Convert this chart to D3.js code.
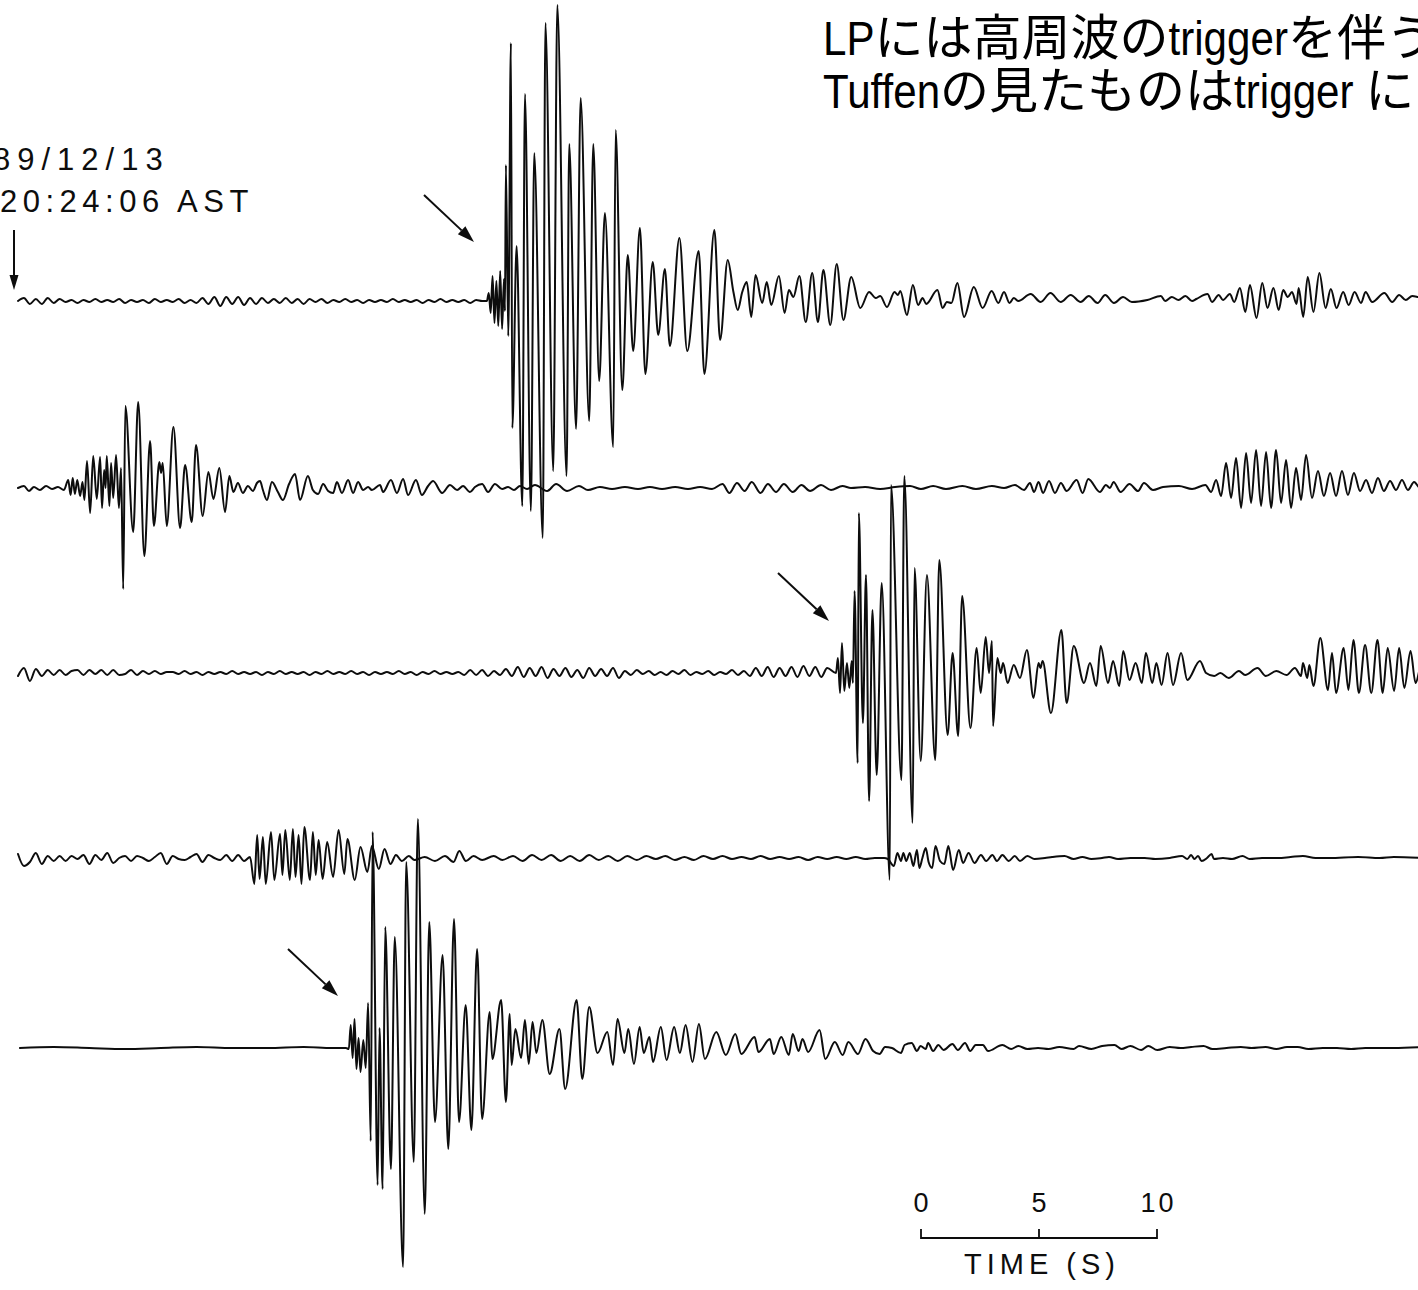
<!DOCTYPE html>
<html>
<head>
<meta charset="utf-8">
<script src="https://cdn.jsdelivr.net/npm/d3@7"></script>
<style>
  html, body { margin: 0; padding: 0; background: #fff; }
  svg { display: block; }
</style>
</head>
<body>
<svg id="chart" width="1418" height="1290"></svg>
<script>
// ---------------------------------------------------------------------------
// Five seismogram traces. Each trace is a list of [time (s), deflection] pairs
// at the turning points of the record; quiet stretches are stored as evenly
// sampled deflections (start time, sample step, values).
// ---------------------------------------------------------------------------

const dateLabel = "89/12/13";
const timeLabel = "20:24:06 AST";
const noteLines = ["LPには高周波のtriggerを伴う", "Tuffenの見たものはtrigger に"];
const scaleTicks = [0, 5, 10];
const scaleTitle = "TIME (S)";

// Trace 1
const trace1Quiet = { start: 0, step: 0.25, amp: [
  0, 3, -3, 2, -3, 3, -2, 2,
  -1, 1, -2, 1, -1, 2, -1, 1, -1, 2, -2, 1, -1, 1, -2, 2, -1, 1, -1, 2, -2, 1,
  -2, 3, -3, 4, -5, 4, -3, 4, -4, 3, -3, 3, -2,
  2, -2, 3, -2, 2, -3, 2, -1, 2, -2,
  1, -1, 2, -1, 1, -2, 1, -1, 1, -1, 2, -1, 1, -1, 1, -2, 1, -1, 2, -1, 1, -1, 1, -2, 1, 0
]};
const trace1Event = [
  [19.70,0],[19.78,8],[19.86,-12],[19.94,25],[20.02,-22],[20.10,20],[20.18,-25],[20.26,30],[20.34,-28],[20.42,22],[20.46,-10],
  [20.50,136],[20.60,-35],[20.71,258],[20.77,-127],[20.95,55],[21.19,-205],[21.30,207],[21.55,-210],[21.69,148],[22.05,-237],
  [22.16,278],[22.49,-170],[22.66,296],[23.05,-175],[23.16,157],[23.45,-128],[23.64,203],[24.00,-120],[24.17,157],[24.42,-80],
  [24.66,88],[25.01,-146],[25.11,171],[25.39,-89],[25.62,46],[25.85,-50],[26.13,73],[26.36,-73],[26.67,39],[26.90,-34],
  [27.18,32],[27.39,-45],[27.79,63],[28.12,-50],[28.60,50],[28.84,-73],[29.26,71],[29.50,-39],[29.82,41],
  [30.06,9],[30.24,-9],[30.43,9],[30.62,19],[30.81,-16],[30.99,26],[31.27,-2],[31.46,19],[31.65,-4],[31.97,25],[32.21,-12],
  [32.39,11],[32.58,4],[32.83,25],[33.10,-21],[33.37,28],[33.61,-21],[33.84,31],[34.13,-24],[34.40,37],[34.68,-19],[35.01,24],
  [35.39,-7],[35.76,9],[36.04,3],[36.23,5],[36.51,-6],[36.83,9],[36.97,6],[37.07,10],[37.35,-14],[37.60,16],[37.82,-4],
  [38.01,3],[38.16,-3],[38.63,11],[38.85,-7],[39.03,-1],[39.22,-2],[39.47,18],[39.75,-16],[40.16,14],[40.53,-7],[40.91,10],
  [41.19,-2],[41.43,9],[41.66,-2],[41.84,3],[42.03,0],[42.55,7],[42.97,-1],[43.38,8],[43.81,-1],[44.23,6],[44.65,-1],
  [44.99,5],[45.36,-2],[45.68,6],[46.05,-2],[46.43,4],[46.80,-1],[47.45,1],[48.02,5],[48.20,0],[48.48,4],[48.76,1],
  [49.05,5],[49.33,0],[49.51,2],[49.98,7],[50.17,-1],[50.45,6],[50.63,1],[50.92,7],[51.10,-1],[51.34,13],[51.57,-11],
  [51.76,16],[52.04,-17],[52.28,18],[52.50,-7],[52.75,13],[52.97,-9],[53.16,11],[53.35,4],[53.53,9],[53.72,-3],[53.81,13],
  [54.00,-16],[54.19,24],[54.43,-11],[54.68,28],[54.94,-7],[55.16,12],[55.40,-7],[55.68,9],[55.91,-4],[56.16,9],[56.43,-2],
  [56.62,9],[56.90,-1],[57.41,8],[57.74,-1],[58.03,6],[58.31,1],[58.58,5],[58.82,4],[59.13,2]
];

// Trace 2
const trace2 = [
  [0.00,0],[0.25,2],[0.46,-3],[0.67,1],[0.92,-2],[1.18,2],[1.43,-1],[1.68,1],[1.93,-2],
  [2.11,8],[2.21,-7],[2.30,10],[2.39,-6],[2.49,8],[2.61,-8],[2.71,6],[2.79,-12],[2.90,27],[3.03,-25],[3.16,32],[3.31,-11],
  [3.45,31],[3.53,-20],[3.62,18],[3.68,0],[3.73,32],[3.84,-18],[3.91,25],[4.00,-10],[4.12,33],[4.24,-20],[4.33,20],
  [4.42,-101],[4.51,82],[4.84,-44],[5.05,86],[5.31,-68],[5.55,47],[5.71,-38],[5.94,26],[6.01,15],[6.08,25],[6.25,-38],
  [6.53,61],[6.81,-40],[7.02,23],[7.30,-34],[7.48,43],[7.76,-28],[8.00,16],[8.21,-11],[8.46,20],[8.70,-24],[8.88,12],[9.05,-4],
  [9.24,5],[9.45,-5],[9.66,2],[9.87,-3],[10.04,5],[10.17,7],[10.29,-2],[10.46,-12],[10.67,6],[10.92,-4],[11.13,-12],
  [11.39,4],[11.64,14],[11.85,-12],[12.18,12],[12.39,-2],[12.61,-6],[12.82,4],[13.03,-3],[13.24,-5],[13.40,6],[13.61,-5],
  [13.87,8],[14.08,-5],[14.29,6],[14.50,-2],[14.71,1],[14.87,-2],[15.21,3],[15.34,-4],[15.67,8],[15.92,-5],[16.18,9],
  [16.39,-7],[16.72,8],[16.97,-7],[17.23,2],[17.44,7],[17.82,-5],[18.15,3],[18.45,-2],[18.70,2],[18.99,-4],[19.20,1],
  [19.50,4],[19.75,-4],[20.04,4],[20.34,-1],[20.59,1],[20.84,-2],[21.09,2],[21.39,-1],[21.72,3],[22.23,-3],[22.61,4],
  [23.07,-3],[23.57,2],[23.95,-2],[24.45,1],[24.96,-1],[25.50,1],[26.05,-1],[26.55,1],[27.06,-1],[27.61,1],[28.15,-1],
  [28.66,1],[29.16,-1],[29.60,4],[29.89,-5],[30.21,5],[30.53,-3],[30.83,6],[31.20,-5],[31.51,4],[31.85,-4],[32.18,4],
  [32.55,-4],[32.92,3],[33.28,-3],[33.74,3],[34.16,-2],[34.64,2],[35.00,0],[35.59,1],[36.22,-1],[36.85,1],[37.48,2],
  [37.94,-1],[38.45,2],[38.99,-1],[39.68,2],[40.25,-1],[40.92,2],[41.43,0],[41.89,3],[42.27,-2],[42.52,5],[42.69,-4],
  [42.88,6],[43.07,-5],[43.32,7],[43.57,-5],[43.82,5],[44.06,-3],[44.48,8],[44.73,-5],[44.97,9],[45.46,-4],[45.71,3],
  [45.88,0],[46.03,6],[46.33,-4],[46.70,4],[47.06,-3],[47.31,5],[47.69,-2],[48.11,1],[48.78,2],[49.33,-1],[49.89,3],
  [50.13,-4],[50.34,8],[50.55,-8],[50.76,25],[50.97,-10],[51.18,30],[51.39,-20],[51.60,35],[51.81,-15],[52.02,38],
  [52.23,-18],[52.44,36],[52.65,-20],[52.86,38],[53.07,-15],[53.28,28],[53.49,-20],[53.70,20],[53.91,-12],[54.12,33],
  [54.37,-10],[54.62,17],[54.87,-8],[55.13,15],[55.38,-8],[55.63,17],[55.88,-7],[56.13,15],[56.39,-3],[56.64,8],
  [56.89,-5],[57.14,10],[57.39,-3],[57.65,7],[57.90,-2],[58.15,8],[58.40,-2],[58.66,6],[58.91,0],[59.24,2]
];

// Trace 3
const trace3Quiet = { start: 0, step: 0.25, amp: [
  -3, 5, -8, 4, -3, 3, -2, 3, -2, 2,
  3, -2, 3, -1, 3, -2, 3, -2, -1, 3, -2, 2, -1, 2, -1, 1,
  1, -1, 2, -1, 1, -2, 1, -1, 1, -1, 2, -1, 1, -1, 1, -2, 1, -1, 2, -1, 1, -1, 1, -2, 1, -1, 2, -1, 1, -1,
  2, -1, 1, -2, 1, -1, 1, -1, 2, -1, 1, -2, 1, -1, 2, -1, 1, -1, 1, -2,
  3, -2, 3, -3, 2, -2, 4, -3,
  6, -4, 5, -3, 6, -5, 4, -3, 5, -4, 3, -5, 5, -3, 4, -3,
  5, -5, 2, -2, 3, -1, 2, -2, 1, -2, 2, -1, 3, -2, 1, -1, 2, -2, 1, -1, 3, -2, 2,
  -3, 5, -3, 6, -4, 5, -3, 6, -4, 7, -3, 6, -4, 5
]};
const trace3Event = [
  [34.37,0],[34.45,15],[34.54,-20],[34.62,30],[34.72,-18],[34.83,10],[34.93,-15],[35.03,12],[35.08,-10],[35.15,82],
  [35.28,-90],[35.33,160],[35.50,-50],[35.63,98],[35.76,-128],[35.90,63],[36.08,-102],[36.29,90],[36.63,-207],[36.68,188],
  [37.12,-107],[37.24,197],[37.59,-150],[37.67,105],[37.93,-88],[38.19,98],[38.54,-87],[38.71,113],[39.06,-62],[39.27,20],
  [39.50,-63],[39.67,77],[40.02,-55],[40.28,25],[40.45,-20],[40.66,36],[40.80,0],[40.92,32],[40.97,-53],[41.15,15],
  [41.29,0],[41.39,10],[41.58,-10],[41.84,8],[42.10,-5],[42.39,23],[42.67,-25],[42.88,10],[42.96,5],[43.05,12],
  [43.40,-40],[43.84,43],[44.06,-30],[44.36,27],[44.79,-10],[45.04,10],[45.31,-13],[45.49,27],[45.80,-10],[46.01,12],
  [46.27,-13],[46.44,22],[46.70,-7],[46.96,10],[47.22,-10],[47.39,20],[47.66,-10],[47.83,10],[48.05,-12],[48.30,20],
  [48.53,-12],[48.87,20],[49.13,-7],[49.66,12],[49.92,0],[50.26,-3],[50.52,0],[50.87,-5],[51.30,2],[51.56,-2],
  [52.08,5],[52.43,-3],[52.87,2],[53.30,-2],[53.65,5],[53.91,-3],[53.99,10],[54.17,-5],[54.26,8],[54.43,-13],
  [54.72,35],[55.04,-17],[55.21,20],[55.38,-20],[55.70,25],[55.90,-17],[56.11,33],[56.34,-20],[56.60,28],[56.86,-20],
  [57.12,33],[57.34,-20],[57.55,25],[57.82,-18],[58.03,25],[58.25,-15],[58.51,22],[58.72,-10],[58.99,10],[59.24,0]
];

// Trace 4
const trace4QuietEarly = { start: 0, step: 0.25, amp: [
  4, -8, -4, 5, -6, 2, -3, 2, -3, 2, -1, 3, -6, 3, -2, 5, -5, 0, 2, -3,
  2, 0, -3, 1, 5, -6, 2, -1, -2, 1, 4, -4, 3, 0, -2, 3, -3, 3, -3, 1
]};
const trace4Burst = [
  [9.93,-26],[10.05,23],[10.15,-21],[10.29,21],[10.41,-26],[10.63,26],[10.77,-22],[11.01,24],[11.11,-17],[11.23,28],
  [11.42,-22],[11.55,29],[11.66,-19],[11.79,23],[11.91,-26],[12.03,31],[12.27,-22],[12.39,26],[12.51,-17],[12.63,18],
  [12.80,-21],[12.99,16],[13.24,-19],[13.47,28],[13.71,-16],[13.84,19],[14.15,-22],[14.39,11],[14.68,-14],[14.87,12],
  [15.16,-11],[15.40,9],[15.65,-6],[15.88,3],[16.13,-3],[16.42,2],[16.66,-2],[17.09,1],[17.52,-3],[17.94,2],[18.30,-4],
  [18.54,7],[18.82,-3],[19.14,2],[19.50,-2],[19.99,2],[20.35,-2]
];
const trace4QuietMid = { start: 20.8, step: 0.4, amp: [
  2, -3, 3, -2, 3, -3, 2, -3, 3, -2, 2, -3,
  2, -2, 2, -1, 2, -2, 1, -2, 2, -1, 2, -1,
  1, -1, 2, -1, 1, -1, 1, -2, 1, -1, 1, -1, 1, -1, 0
]};
const trace4Late = [
  [36.39,0],[36.55,-1],[36.80,-8],[36.95,5],[37.10,-3],[37.20,5],[37.32,-3],[37.47,5],[37.62,-8],[37.77,8],[37.87,-10],
  [38.00,0],[38.14,10],[38.26,-4],[38.41,-10],[38.55,12],[38.74,-3],[38.92,-6],[39.09,12],[39.29,-12],[39.53,8],
  [39.71,-5],[39.94,5],[40.19,-5],[40.46,3],[40.68,-3],[40.94,3],[41.13,-3],[41.36,3],[41.63,-3],[41.88,2],[42.10,-3],
  [42.41,2],[42.71,-1],[43.15,0],[43.45,1],[43.97,2],[44.35,-1],[44.72,1],[45.10,-1],[45.55,0],[45.84,1],[46.22,-1],
  [46.74,0],[47.34,0],[47.79,-1],[48.39,0],[48.91,2],[49.13,-1],[49.29,3],[49.43,-1],[49.58,2],[49.73,-3],[49.96,0],
  [50.15,4],[50.25,-1],[50.63,0],[51.01,-1],[51.45,2],[51.75,-1],[52.27,0],[52.94,0],[53.47,1],[53.99,2],[54.52,0],
  [55.11,0],[56.31,1],[57.21,0],[57.81,1],[59.12,0]
];

// Trace 5
const trace5 = [
  [0.08,0],[1.5,1],[3.0,0],[4.5,-1],[6.0,0],[7.5,1],[9.0,0],[10.5,0],[12.0,1],[13.2,0],[13.78,0],
  [13.90,-1],[13.98,23],[14.06,-10],[14.14,29],[14.22,-21],[14.31,10],[14.39,-24],[14.51,8],[14.61,-20],[14.71,45],
  [14.82,-93],[14.90,216],[15.11,-137],[15.19,20],[15.32,-141],[15.43,121],[15.67,-121],[15.83,111],[16.18,-219],
  [16.31,186],[16.63,-114],[16.80,229],[17.09,-166],[17.28,126],[17.52,-74],[17.84,93],[18.08,-101],[18.32,129],
  [18.53,-74],[18.81,43],[19.05,-82],[19.29,99],[19.50,-71],[19.82,36],[19.93,-11],[20.30,48],[20.50,-54],[20.66,34],
  [20.74,-17],[20.90,19],[21.14,-10],[21.30,28],[21.46,-16],[21.62,26],[21.78,-5],[22.03,28],[22.34,-26],[22.75,19],
  [22.99,-41],[23.47,48],[23.71,-31],[24.00,41],[24.35,-5],[24.76,16],[25.00,-17],[25.19,29],[25.48,-5],[25.64,19],
  [25.88,-16],[26.12,21],[26.29,-5],[26.53,11],[26.68,-14],[27.01,21],[27.25,-12],[27.57,21],[27.81,-5],[28.05,23],
  [28.34,-14],[28.61,24],[28.86,-11],[29.34,16],[29.74,-7],[30.14,14],[30.39,-6],[30.95,11],[31.11,-4],[31.59,9],
  [31.75,-6],[32.07,11],[32.39,-7],[32.55,14],[32.80,-3],[32.96,9],[33.20,-4],[33.68,18],[33.92,-11],[34.32,6],
  [34.65,-7],[34.89,6],[35.29,-6],[35.61,9],[35.93,-3],[36.20,-6],[36.43,1],[36.72,0],[37.10,-5],[37.25,3],[37.55,5],
  [37.77,-3],[37.92,2],[38.14,-1],[38.24,5],[38.45,-3],[38.67,3],[38.89,-2],[39.26,4],[39.49,-2],[39.79,5],[40.01,-3],
  [40.24,3],[40.54,3],[40.76,-3],[41.36,3],[41.73,-1],[42.03,2],[42.41,-1],[42.86,0],[43.30,-1],[43.75,1],[44.35,-1],
  [44.58,2],[45.10,-1],[45.55,2],[46.07,3],[46.37,-1],[46.74,2],[47.19,-2],[47.49,2],[47.87,-2],[48.39,1],[48.84,0],
  [49.29,1],[49.81,2],[50.18,-1],[50.78,0],[51.38,1],[51.83,0],[52.42,1],[52.87,-1],[53.32,1],[53.77,1],[54.22,-1],
  [54.82,0],[55.42,0],[56.01,-1],[56.61,0],[57.81,0],[59.12,1]
];

// ---------------------------------------------------------------------------
const svg = d3.select("#chart");
const ink = "#0d0d0d";

// time axis shared by all traces: 23.8 px per second
const x = d3.scaleLinear().domain([0, 60]).range([18, 18 + 60 * 23.8]);
// deflection: one unit is one pixel, upward positive
const defl = d3.scaleLinear().domain([-100, 100]).range([100, -100]);
const baselines = [301, 488, 673, 858, 1048];

function unpack(seg) {
  return seg.amp.map((a, i) => [seg.start + i * seg.step, a]);
}

const traces = [
  [...unpack(trace1Quiet), ...trace1Event],
  trace2,
  [...unpack(trace3Quiet), ...trace3Event],
  [...unpack(trace4QuietEarly), ...trace4Burst, ...unpack(trace4QuietMid), ...trace4Late],
  trace5
];

const gTraces = svg.append("g");
traces.forEach((pts, i) => {
  const sorted = pts.slice().sort((a, b) => a[0] - b[0])
    .filter((d, k, arr) => k === 0 || d[0] > arr[k - 1][0]);
  const line = d3.line()
    .x(d => x(d[0]))
    .y(d => baselines[i] + defl(d[1]))
    .curve(d3.curveMonotoneX);
  gTraces.append("path")
    .attr("d", line(sorted))
    .attr("fill", "none")
    .attr("stroke", ink)
    .attr("stroke-width", 2)
    .attr("stroke-linejoin", "round")
    .attr("stroke-linecap", "round");
});

// arrows marking onsets
function arrow(x1, y1, x2, y2, len, half) {
  const a = Math.atan2(y2 - y1, x2 - x1);
  const bx = x2 - len * Math.cos(a), by = y2 - len * Math.sin(a);
  const g = svg.append("g");
  g.append("line").attr("x1", x1).attr("y1", y1).attr("x2", bx).attr("y2", by)
    .attr("stroke", ink).attr("stroke-width", 2);
  g.append("path")
    .attr("d", `M${x2},${y2}L${bx - half * Math.sin(a)},${by + half * Math.cos(a)}L${bx + half * Math.sin(a)},${by - half * Math.cos(a)}Z`)
    .attr("fill", ink);
}
arrow(14, 230, 14, 290, 15, 4.5);
arrow(424, 195, 474, 242, 17, 5.5);
arrow(778, 573, 829, 621, 17, 5.5);
arrow(288, 949, 338, 996, 17, 5.5);

// start-time stamp
const stampFont = "'Liberation Sans', Arial, Helvetica, sans-serif";
svg.append("text").attr("x", -7).attr("y", 170).text(dateLabel)
  .attr("font-family", stampFont).attr("font-size", 31).attr("letter-spacing", 7).attr("fill", ink);
svg.append("text").attr("x", 0).attr("y", 212).text(timeLabel)
  .attr("font-family", stampFont).attr("font-size", 31).attr("letter-spacing", 5.5).attr("fill", ink);

// note in the upper right: one text per line; Latin runs are set condensed,
// kana/kanji at full width
const noteSize = 49, latinSquash = 0.86;
noteLines.forEach((s, i) => {
  const text = svg.append("text")
    .attr("x", 823).attr("y", 55 + i * 53)
    .attr("font-size", noteSize)
    .attr("fill", "#000")
    .style("white-space", "pre");
  s.match(/[A-Za-z ]+|[^A-Za-z ]+/g).forEach(run => {
    const latin = /^[A-Za-z ]+$/.test(run);
    const ts = text.append("tspan")
      .attr("font-family", latin ? "'Liberation Sans', Arial, sans-serif" : "'Noto Sans CJK JP', sans-serif")
      .text(run);
    if (latin) {
      const w = ts.node().getComputedTextLength();
      ts.attr("textLength", (w * latinSquash).toFixed(1)).attr("lengthAdjust", "spacingAndGlyphs");
    }
  });
});

// time scale bar
const sb = d3.scaleLinear().domain([0, 10]).range([921, 1157]);
const barY = 1238;
const gBar = svg.append("g");
gBar.append("path")
  .attr("d", `M${sb(0)},${barY - 9}V${barY}H${sb(10)}V${barY - 9}M${sb(5)},${barY}V${barY - 9}`)
  .attr("fill", "none").attr("stroke", ink).attr("stroke-width", 1.8);
gBar.selectAll("text.tick").data(scaleTicks).join("text")
  .attr("class", "tick")
  .attr("x", d => sb(d) + 1.5).attr("y", 1212)
  .attr("text-anchor", "middle")
  .attr("font-family", stampFont).attr("font-size", 27).attr("letter-spacing", 3)
  .attr("fill", ink)
  .text(d => d);
gBar.append("text")
  .attr("x", sb(5) + 3).attr("y", 1274)
  .attr("text-anchor", "middle")
  .attr("font-family", stampFont).attr("font-size", 29).attr("letter-spacing", 5)
  .attr("fill", ink)
  .text(scaleTitle);
</script>
</body>
</html>
